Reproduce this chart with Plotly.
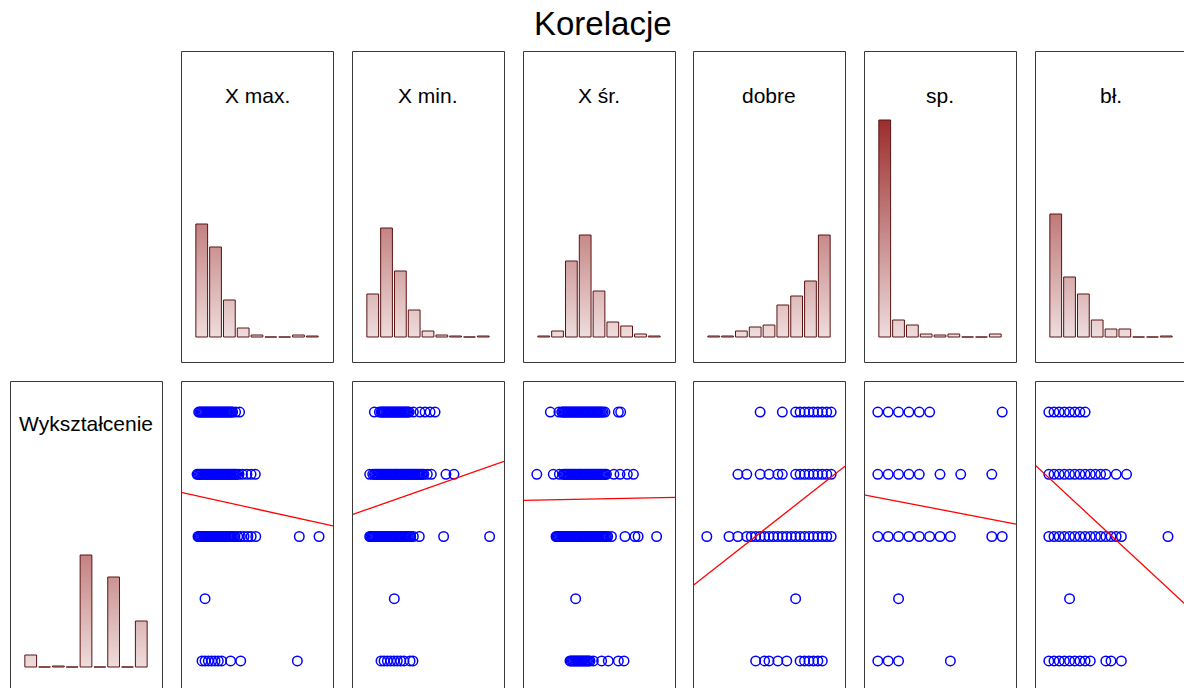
import plotly.graph_objects as go

# the page body margin is removed (post_script below), so the figure fills the window
OFF = 0
WIN_W, WIN_H = 1184, 688
W, H = WIN_W - OFF, WIN_H - OFF

# ---------------- data ----------------
chart_title = "Korelacje"
var_names = ["X max.", "X min.", "X śr.", "dobre", "sp.", "bł."]
row_name = "Wykształcenie"

# histogram counts (9 equal bins over each variable's span)
hist_xmax = [113, 90, 37, 9, 2, 0, 0, 2, 1]
hist_xmin = [43, 109, 66, 27, 6, 2, 1, 0, 1]
hist_xsr = [1, 6, 76, 102, 46, 15, 11, 3, 1]
hist_dobre = [1, 1, 6, 10, 12, 32, 41, 56, 102]
hist_sp = [217, 17, 12, 3, 2, 3, 0, 0, 3]
hist_bl = [123, 60, 43, 17, 8, 8, 0, 0, 1]
hist_wyk = [12, 0, 1, 0, 112, 0, 90, 0, 46]

# data span (min, max) of each variable
span_xmax = [0, 9]
span_xmin = [0, 9]
span_xsr = [0, 9]
span_dobre = [0, 28]
span_sp = [0, 12]
span_bl = [0, 24]
span_wyk = [1, 5]

# Wykształcenie levels (y of scatter panels)
wyk_levels = [1, 2, 3, 4, 5]
wyk_range = [0.5, 5.5]

# distinct x positions of points, per Wykształcenie level (1..5)
xmax_rows = [
    [0.52, 0.74, 0.98, 1.22, 1.46, 1.7, 1.94, 2.59, 3.32, 7.42],
    [0.74],
    [0.23, 0.31, 0.4, 0.49, 0.57, 0.66, 0.74, 0.83, 0.91, 1.0, 1.09, 1.17, 1.26, 1.34, 1.43, 1.52,
     1.6, 1.69, 1.77, 1.86, 1.95, 2.03, 2.12, 2.2, 2.29, 2.38, 2.46, 2.55, 2.63, 2.72, 2.81, 2.9,
     3.1, 3.3, 3.56, 3.84, 4.08, 4.41, 7.56, 8.99],
    [0.16, 0.24, 0.33, 0.41, 0.5, 0.58, 0.67, 0.75, 0.84, 0.92, 1.01, 1.09, 1.18, 1.26, 1.35, 1.43,
     1.52, 1.6, 1.69, 1.77, 1.86, 1.94, 2.03, 2.11, 2.2, 2.28, 2.37, 2.45, 2.54, 2.62, 2.71, 2.79,
     2.88, 2.96, 3.05, 3.2, 3.45, 3.77, 4.07, 4.38],
    [0.28, 0.36, 0.45, 0.53, 0.62, 0.7, 0.79, 0.87, 0.96, 1.04, 1.13, 1.21, 1.3, 1.38, 1.47, 1.55,
     1.64, 1.72, 1.81, 1.89, 1.98, 2.06, 2.15, 2.23, 2.32, 2.4, 2.49, 2.57, 2.66, 2.74, 2.95, 3.24],
]
xmin_rows = [
    [1.1, 1.32, 1.56, 1.8, 2.04, 2.28, 2.52, 2.76, 3.2, 3.41],
    [2.06],
    [0.28, 0.36, 0.45, 0.53, 0.62, 0.7, 0.79, 0.87, 0.96, 1.04, 1.13, 1.21, 1.3, 1.38, 1.47, 1.55,
     1.64, 1.72, 1.81, 1.89, 1.98, 2.06, 2.15, 2.23, 2.32, 2.4, 2.49, 2.57, 2.66, 2.74, 2.83, 2.91,
     3.0, 3.08, 3.17, 3.25, 3.44, 3.87, 5.63, 8.96],
    [0.28, 0.5, 0.62, 0.7, 0.79, 0.87, 0.96, 1.04, 1.13, 1.21, 1.3, 1.38, 1.47, 1.55, 1.64, 1.72,
     1.81, 1.89, 1.98, 2.06, 2.15, 2.23, 2.32, 2.4, 2.49, 2.57, 2.66, 2.74, 2.83, 2.91, 3.0, 3.08,
     3.17, 3.25, 3.34, 3.42, 3.51, 3.59, 3.68, 3.76, 3.85, 3.93, 4.02, 4.1, 4.2, 4.45, 4.74, 5.8, 6.38],
    [0.62, 0.98, 1.1, 1.18, 1.27, 1.35, 1.44, 1.52, 1.61, 1.69, 1.78, 1.86, 1.95, 2.03, 2.12, 2.2,
     2.29, 2.37, 2.46, 2.54, 2.63, 2.71, 2.8, 2.88, 2.97, 3.05, 3.14, 3.44, 3.92, 4.29, 4.65, 5.01],
]
xsr_rows = [
    [2.4, 2.48, 2.57, 2.65, 2.74, 2.82, 2.91, 2.99, 3.08, 3.16, 3.25, 3.33, 3.42, 3.5, 3.59, 3.67,
     3.76, 3.85, 4.09, 4.69, 5.17, 5.9, 6.31],
    [2.81],
    [1.39, 1.47, 1.56, 1.64, 1.73, 1.81, 1.9, 1.98, 2.07, 2.15, 2.24, 2.32, 2.41, 2.49, 2.58, 2.66,
     2.75, 2.83, 2.92, 3.0, 3.09, 3.17, 3.26, 3.34, 3.43, 3.51, 3.6, 3.68, 3.77, 3.85, 3.94, 4.02,
     4.11, 4.19, 4.28, 4.36, 4.45, 4.53, 4.62, 4.7, 4.79, 4.87, 4.96, 5.04, 5.13, 5.4, 6.38, 7.1,
     7.33, 8.67],
    [0.0, 1.19, 1.63, 1.9, 1.98, 2.07, 2.15, 2.24, 2.32, 2.41, 2.49, 2.58, 2.66, 2.75, 2.83, 2.92,
     3.0, 3.09, 3.17, 3.26, 3.34, 3.43, 3.51, 3.6, 3.68, 3.77, 3.85, 3.94, 4.02, 4.11, 4.19, 4.28,
     4.36, 4.45, 4.53, 4.62, 4.7, 4.79, 4.87, 4.96, 5.04, 5.58, 6.02, 6.55, 6.99],
    [0.98, 1.6, 1.8, 1.88, 1.97, 2.05, 2.14, 2.22, 2.31, 2.39, 2.48, 2.56, 2.65, 2.73, 2.82, 2.9,
     2.99, 3.07, 3.16, 3.24, 3.33, 3.41, 3.5, 3.58, 3.67, 3.75, 3.84, 3.92, 4.01, 4.09, 4.18, 4.26,
     4.35, 4.43, 4.52, 4.6, 4.69, 4.8, 4.93, 5.9, 6.07],
]
dobre_rows = [
    [11, 13, 14, 16, 18, 21, 22, 23, 24, 25, 26],
    [20],
    [0, 5, 7, 9, 10, 11, 12, 13, 14, 15, 16, 17, 18, 19, 20, 21, 22, 23, 24, 25, 26, 27, 28],
    [7, 9, 12, 14, 16, 17, 20, 21, 22, 23, 24, 25, 26, 27, 28],
    [12, 17, 20, 21, 22, 23, 24, 25, 26, 27, 28],
]
sp_rows = [
    [0, 1, 2, 7],
    [2],
    [0, 1, 2, 3, 4, 5, 6, 7, 11, 12],
    [0, 1, 2, 3, 4, 6, 8, 11],
    [0, 1, 2, 3, 4, 5, 12],
]
bl_rows = [
    [0, 1, 2, 3, 4, 5, 6, 7, 8, 11, 12, 14],
    [4],
    [0, 1, 2, 3, 4, 5, 6, 7, 8, 9, 10, 11, 12, 13, 14, 23],
    [0, 1, 2, 3, 4, 5, 6, 7, 8, 9, 10, 11, 13, 15],
    [0, 1, 2, 3, 4, 5, 6, 7],
]

# regression line Wykształcenie = a + b * x (x in each variable's units)
reg_a = [3.661, 3.428, 3.585, 2.385, 3.627, 3.944]
reg_b = [-0.0491, 0.0782, 0.0045, 0.0561, -0.0320, -0.0773]

hist_counts = [hist_xmax, hist_xmin, hist_xsr, hist_dobre, hist_sp, hist_bl]
spans = [span_xmax, span_xmin, span_xsr, span_dobre, span_sp, span_bl]
rows_all = [xmax_rows, xmin_rows, xsr_rows, dobre_rows, sp_rows, bl_rows]

# ---------------- layout geometry / style (window pixel coordinates) ----------------
PW, PH = 152, 311
lefts = [10, 181, 352, 523, 693, 864, 1035]
tops = [51, 381]
hist_range = [-25, 286]
FONT = "Liberation Sans, Arial, sans-serif"
OUTLINE = "#5a1414"
GRAD_BOTTOM = (238, 220, 220)
GRAD_TOP = (155, 42, 42)
GRAD_H = 220.0


def px(xw):
    return (xw - OFF) / W


def py(yw):
    return 1 - (yw - OFF) / H


def grad_color(t):
    t = max(0.0, min(1.0, t))
    r, g, b = (round(a + (c - a) * t) for a, c in zip(GRAD_BOTTOM, GRAD_TOP))
    return f"rgb({r},{g},{b})"


def x_geom(left, r0, r1):
    v0, v1 = max(left, OFF), min(left + PW, WIN_W)
    a = r0 + (r1 - r0) * (v0 - left) / PW
    b = r0 + (r1 - r0) * (v1 - left) / PW
    return [px(v0), px(v1)], [a, b]


def y_geom(top, r0, r1):
    bottom = top + PH
    vt, vb = max(top, OFF), min(bottom, WIN_H)
    lo = r0 + (r1 - r0) * (bottom - vb) / PH
    hi = r0 + (r1 - r0) * (bottom - vt) / PH
    return [py(vb), py(vt)], [lo, hi]


fig = go.Figure()
layout_axes = {}
shapes = []
annotations = []
axis_counter = [0]


def new_axes(col, row, xr, yr):
    axis_counter[0] += 1
    n = axis_counter[0]
    xd, xrng = x_geom(lefts[col], xr[0], xr[1])
    yd, yrng = y_geom(tops[row], yr[0], yr[1])
    common = dict(showgrid=False, zeroline=False, showticklabels=False, ticks="",
                  showline=False, fixedrange=True)
    layout_axes["xaxis" if n == 1 else f"xaxis{n}"] = dict(domain=xd, range=xrng,
                                                           anchor="y" if n == 1 else f"y{n}", **common)
    layout_axes["yaxis" if n == 1 else f"yaxis{n}"] = dict(domain=yd, range=yrng,
                                                           anchor="x" if n == 1 else f"x{n}", **common)
    left = lefts[col]
    top = tops[row]
    shapes.append(dict(type="rect", xref="paper", yref="paper",
                       x0=px(left + 0.5), x1=px(left + PW + 0.5),
                       y0=py(top + PH + 0.5), y1=py(top + 0.5),
                       line=dict(color="#3a3a3a", width=1), fillcolor="rgba(0,0,0,0)", layer="above"))
    return ("x" if n == 1 else f"x{n}"), ("y" if n == 1 else f"y{n}")


def bin_range(span):
    w = (span[1] - span[0]) / 9
    return w, [span[0] - w, span[1] + w]


def add_hist(col, row, counts, span, label, label_y):
    w, xr = bin_range(span)
    xa, ya = new_axes(col, row, xr, hist_range)
    centers = [span[0] + (i + 0.5) * w for i in range(len(counts))]
    xs, bases, hs, cols = [], [], [], []
    step = 2
    for c, cnt in zip(centers, counts):
        lvl = 0
        while lvl < cnt:
            topv = min(cnt, lvl + step + 0.7)
            xs.append(c)
            bases.append(lvl)
            hs.append(topv - lvl)
            cols.append(grad_color((lvl + step / 2) / GRAD_H))
            lvl += step
    fig.add_trace(go.Bar(x=xs, y=hs, base=bases, width=0.85 * w, xaxis=xa, yaxis=ya,
                         marker=dict(color=cols, line=dict(width=0)), hoverinfo="skip",
                         showlegend=False))
    fig.add_trace(go.Bar(x=centers, y=counts, base=0, width=0.85 * w, xaxis=xa, yaxis=ya,
                         marker=dict(color="rgba(0,0,0,0)", line=dict(color=OUTLINE, width=1)),
                         showlegend=False))
    annotations.append(dict(text=label, xref="paper", yref="paper",
                            x=px(lefts[col] + PW / 2), y=py(label_y),
                            xanchor="center", yanchor="middle", showarrow=False,
                            font=dict(family=FONT, size=21, color="#000000")))


# top row: histograms of the six variables
for i in range(6):
    add_hist(i + 1, 0, hist_counts[i], spans[i], var_names[i], 95)

# bottom-left: histogram of Wykształcenie
add_hist(0, 1, hist_wyk, span_wyk, row_name, 423)

# bottom row: scatter of each variable vs Wykształcenie with regression line
for i in range(6):
    w, xr = bin_range(spans[i])
    xa, ya = new_axes(i + 1, 1, xr, wyk_range)
    xs, ys = [], []
    for lvl, vals in zip(wyk_levels, rows_all[i]):
        xs += vals
        ys += [lvl] * len(vals)
    fig.add_trace(go.Scatter(x=xs, y=ys, mode="markers", xaxis=xa, yaxis=ya,
                             marker=dict(symbol="circle-open", size=9.5, color="#0000ff",
                                         line=dict(width=1.5, color="#0000ff")),
                             showlegend=False, cliponaxis=True))
    lx = [xr[0], xr[1]]
    ly = [reg_a[i] + reg_b[i] * v for v in lx]
    fig.add_trace(go.Scatter(x=lx, y=ly, mode="lines", xaxis=xa, yaxis=ya,
                             line=dict(color="#ff0000", width=1.3),
                             showlegend=False, cliponaxis=True, hoverinfo="skip"))

annotations.append(dict(text=chart_title, xref="paper", yref="paper", x=px(603), y=py(24),
                        xanchor="center", yanchor="middle", showarrow=False, borderpad=0,
                        font=dict(family=FONT, size=33, color="#000000")))

fig.update_layout(width=W, height=H, margin=dict(l=0, r=0, t=0, b=0),
                  paper_bgcolor="white", plot_bgcolor="white", barmode="overlay",
                  shapes=shapes, annotations=annotations, showlegend=False, **layout_axes)

fig.write_html("out.html", config={"displayModeBar": False},
               post_script="document.body.style.margin='0px';document.body.style.overflow='hidden';")
